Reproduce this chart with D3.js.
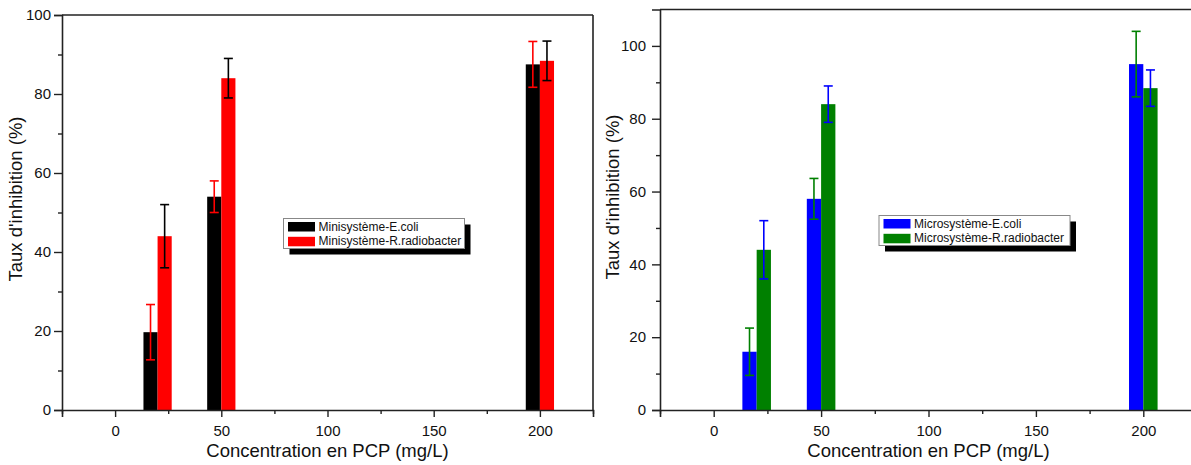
<!DOCTYPE html>
<html>
<head>
<meta charset="utf-8">
<script src="https://cdn.jsdelivr.net/npm/d3@7/dist/d3.min.js"></script>
<style>
  html, body { margin: 0; padding: 0; background: #fff; }
  svg { display: block; font-family: "Liberation Sans", Arial, sans-serif; }
</style>
</head>
<body>
<svg id="chart" width="1191" height="465"></svg>
<script>
// ---- Data ----
const concentrations = [20, 50, 200];
const xTicks = [0, 50, 100, 150, 200];
const yTicks = [0, 20, 40, 60, 80, 100];

const miniEcoli = [19.7, 54.0, 87.5];
const miniEcoliErr = [7.0, 4.0, 5.8];
const miniRadio = [44.0, 84.0, 88.4];
const miniRadioErr = [8.0, 5.0, 5.0];

const microEcoli = [16.0, 58.0, 95.0];
const microEcoliErr = [6.5, 5.6, 9.0];
const microRadio = [44.0, 84.0, 88.4];
const microRadioErr = [8.0, 5.0, 5.0];

const miniLabels = ["Minisystème-E.coli", "Minisystème-R.radiobacter"];
const microLabels = ["Microsystème-E.coli", "Microsystème-R.radiobacter"];
const xTitle = "Concentration en PCP (mg/L)";
const yTitle = "Taux d'inhibition (%)";

const svg = d3.select("#chart");

function panel(cfg) {
  const g = svg.append("g");
  const x = d3.scaleLinear().domain([-25, 225]).range([cfg.left, cfg.right]);
  const y = d3.scaleLinear().domain([0, cfg.yMax]).range([410, cfg.top]);
  const bw = 6.65;
  const axisColor = "#222";

  const series = [
    { vals: cfg.s1, errs: cfg.e1, color: cfg.c1, errColor: cfg.c2, off: -1 },
    { vals: cfg.s2, errs: cfg.e2, color: cfg.c2, errColor: cfg.c1, off: 0 }
  ];

  // bars
  series.forEach(s => {
    g.selectAll(null).data(concentrations).enter().append("rect")
      .attr("x", (c) => x(c + s.off * bw))
      .attr("width", x(bw) - x(0))
      .attr("y", (c, i) => y(s.vals[i]))
      .attr("height", (c, i) => y(0) - y(s.vals[i]))
      .attr("fill", s.color);
  });
  // error bars
  series.forEach(s => {
    concentrations.forEach((c, i) => {
      const cx = x(c + s.off * bw + bw / 2);
      const top = y(s.vals[i] + s.errs[i]);
      const bot = y(s.vals[i] - s.errs[i]);
      const eg = g.append("g").attr("stroke", s.errColor).attr("stroke-width", 1.6);
      eg.append("line").attr("x1", cx).attr("x2", cx).attr("y1", top).attr("y2", bot);
      eg.append("line").attr("x1", cx - 4.5).attr("x2", cx + 4.5).attr("y1", top).attr("y2", top);
      eg.append("line").attr("x1", cx - 4.5).attr("x2", cx + 4.5).attr("y1", bot).attr("y2", bot);
    });
  });

  // axes
  const xMinor = d3.range(-25, 226, 50);
  const yMinor = d3.range(10, cfg.yMax, 20);
  g.append("g").attr("transform", `translate(0,${y(0)})`)
    .call(d3.axisBottom(x).tickValues(xTicks).tickSize(7).tickPadding(8).tickFormat(d3.format("d")));
  g.append("g").attr("transform", `translate(0,${y(0)})`)
    .call(d3.axisBottom(x).tickValues(xMinor).tickSize(4).tickFormat(""))
    .call(a => a.select(".domain").remove());
  g.append("g").attr("transform", `translate(${cfg.left},0)`)
    .call(d3.axisLeft(y).tickValues(yTicks).tickSize(8).tickPadding(cfg.yPad));
  g.append("g").attr("transform", `translate(${cfg.left},0)`)
    .call(d3.axisLeft(y).tickValues(yMinor).tickSize(4).tickFormat(""))
    .call(a => a.select(".domain").remove());

  g.selectAll(".domain").attr("stroke", axisColor).attr("stroke-width", 1.6);
  g.selectAll(".tick line").attr("stroke", axisColor).attr("stroke-width", 1.4);
  g.selectAll(".tick text").attr("font-size", 15).attr("fill", "#111")
    .attr("font-family", "Liberation Sans, Arial, sans-serif");

  // box top + right
  g.append("line").attr("x1", cfg.left).attr("x2", cfg.right).attr("y1", cfg.top).attr("y2", cfg.top)
    .attr("stroke", axisColor).attr("stroke-width", 1.6);
  g.append("line").attr("x1", cfg.right).attr("x2", cfg.right).attr("y1", cfg.top).attr("y2", y(0))
    .attr("stroke", axisColor).attr("stroke-width", 1.6);

  // titles
  g.append("text").attr("x", (cfg.left + cfg.right) / 2).attr("y", 457)
    .attr("text-anchor", "middle").attr("font-size", 18.5).attr("fill", "#111").text(xTitle);
  g.append("text").attr("transform", `translate(${cfg.yTitleX},${cfg.yTitleY}) rotate(-90)`)
    .attr("text-anchor", "middle").attr("font-size", 18.5).attr("fill", "#111").text(yTitle);

  // legend
  const L = cfg.legend;
  const lg = g.append("g");
  lg.append("rect").attr("x", L.x + 6).attr("y", L.y + 6).attr("width", L.w).attr("height", 30).attr("fill", "#000");
  lg.append("rect").attr("x", L.x).attr("y", L.y).attr("width", L.w).attr("height", 30)
    .attr("fill", "#fff").attr("stroke", "#888").attr("stroke-width", 1);
  [cfg.c1, cfg.c2].forEach((col, i) => {
    lg.append("rect").attr("x", L.x + 4.5).attr("y", L.y + 3.5 + i * 14.8).attr("width", 27).attr("height", 9.5).attr("fill", col);
    lg.append("text").attr("x", L.x + 35).attr("y", L.y + 12 + i * 14.8).attr("font-size", 12).attr("fill", "#111")
      .text(cfg.labels[i]);
  });
}

panel({
  left: 62, right: 593, top: 15, yMax: 100, yPad: 3,
  s1: miniEcoli, e1: miniEcoliErr, s2: miniRadio, e2: miniRadioErr,
  c1: "#000000", c2: "#ff0000",
  labels: miniLabels,
  legend: { x: 283.5, y: 218.5, w: 181 },
  yTitleX: 22, yTitleY: 199
});
panel({
  left: 660, right: 1197, top: 9.5, yMax: 110, yPad: 6,
  s1: microEcoli, e1: microEcoliErr, s2: microRadio, e2: microRadioErr,
  c1: "#0000ff", c2: "#008000",
  labels: microLabels,
  legend: { x: 879, y: 215.5, w: 191 },
  yTitleX: 619, yTitleY: 197
});
</script>
</body>
</html>
